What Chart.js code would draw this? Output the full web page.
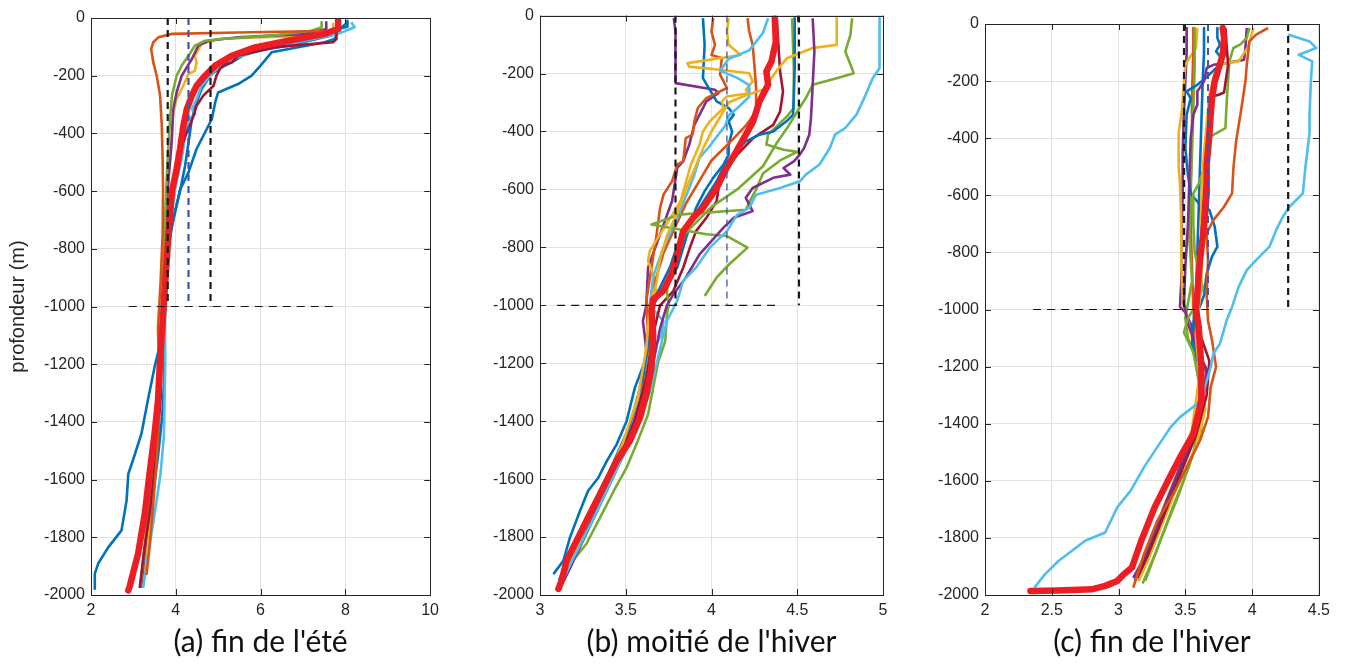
<!DOCTYPE html>
<html lang="fr">
<head>
<meta charset="utf-8">
<script src="https://cdn.jsdelivr.net/npm/chart.js@4.4.1/dist/chart.umd.min.js"></script>
<style>
    html, body { margin: 0; padding: 0; background: #fff; }
    #page { position: relative; width: 1356px; height: 667px; overflow: hidden; }
    .panel { position: absolute; top: 0; height: 667px; }
</style>
</head>
<body>
<div id="page">
    <div class="panel" style="left:0px;width:445px"><canvas id="chartA" width="445" height="667"></canvas></div>
    <div class="panel" style="left:460px;width:436px"><canvas id="chartB" width="436" height="667"></canvas></div>
    <div class="panel" style="left:905px;width:431px"><canvas id="chartC" width="431" height="667"></canvas></div>
</div>
<script>
// axes
const depthTicks = [0, -200, -400, -600, -800, -1000, -1200, -1400, -1600, -1800, -2000];
const tempTicksA = [2, 4, 6, 8, 10];
const tempTicksB = [3, 3.5, 4, 4.5, 5];
const tempTicksC = [2, 2.5, 3, 3.5, 4, 4.5];
const depthLabel = 'profondeur (m)';
const captions = ["(a) fin de l'été", "(b) moitié de l'hiver", "(c) fin de l'hiver"];

// reference lines: [black left, mean (blue), black right], horizontal line at -1000 [from, to]
const refDepth = -1000;
const refA = [3.81, 4.30, 4.82];
const hLineA = [2.89, 7.77];
const refB = [3.79, 4.09, 4.51];
const hLineB = [3.10, 4.37];
const refC = [3.49, 3.67, 4.27];
const hLineC = [2.36, 3.83];

// (a) fin de l'été — [température, profondeur]
const a_blue1 = [[8.05,-10],[8.05,-30],[7.83,-38],[7.75,-73],[7.51,-84],[6.26,-119],[6.0,-165],[5.79,-200],[5.47,-229],[5.0,-258],[4.93,-292],[4.85,-350],[4.69,-397],[4.49,-454],[4.30,-535],[4.10,-595],[3.98,-676],[3.87,-746],[3.79,-861],[3.75,-1000],[3.73,-1060],[3.68,-1100],[3.50,-1210],[3.34,-1326],[3.19,-1441],[2.99,-1533],[2.88,-1580],[2.84,-1672],[2.72,-1776],[2.41,-1834],[2.17,-1891],[2.09,-1926],[2.09,-1978]];
const a_blue2 = [[8.06,-15],[7.67,-61],[6.65,-96],[5.71,-119],[5.32,-154],[5.0,-177],[4.81,-200],[4.61,-246],[4.49,-292],[4.38,-350],[4.30,-431],[4.22,-512],[4.10,-600],[3.95,-690],[3.82,-800],[3.74,-950],[3.72,-1000],[3.74,-1100],[3.73,-1250],[3.68,-1380],[3.58,-1520],[3.45,-1660],[3.32,-1810],[3.20,-1975]];
const a_cyan = [[8.14,-15],[8.22,-32],[7.83,-55],[7.04,-79],[6.10,-108],[5.47,-136],[5.08,-160],[4.81,-200],[4.61,-235],[4.49,-281],[4.38,-316],[4.46,-333],[4.30,-350],[4.22,-408],[4.14,-489],[4.0,-580],[3.90,-680],[3.80,-800],[3.75,-1000],[3.75,-1200],[3.72,-1450],[3.64,-1580],[3.52,-1700],[3.36,-1850],[3.23,-1975]];
const a_wine = [[7.79,-15],[7.79,-73],[7.71,-84],[6.40,-100],[5.47,-131],[5.32,-154],[5.16,-160],[5.04,-177],[4.96,-200],[4.89,-235],[4.77,-252],[4.65,-269],[4.49,-304],[4.42,-339],[4.25,-400],[4.05,-480],[3.92,-600],[3.82,-750],[3.72,-950],[3.67,-1100],[3.65,-1300],[3.55,-1500],[3.40,-1700],[3.25,-1850],[3.15,-1975]];
const a_green = [[7.44,-15],[7.44,-32],[7.20,-44],[6.26,-61],[5.08,-73],[4.69,-79],[4.45,-96],[4.30,-131],[4.14,-165],[4.02,-200],[3.91,-269],[3.87,-339],[3.83,-431],[3.79,-547],[3.76,-650],[3.72,-800],[3.68,-1000],[3.63,-1200],[3.56,-1400],[3.43,-1600],[3.29,-1800],[3.16,-1975]];
const a_purple = [[7.55,-15],[7.55,-38],[7.04,-55],[5.47,-67],[4.77,-79],[4.53,-96],[4.38,-142],[4.26,-171],[4.14,-200],[4.02,-258],[3.94,-316],[3.91,-408],[3.87,-489],[3.80,-600],[3.76,-750],[3.70,-1000],[3.64,-1200],[3.55,-1400],[3.43,-1600],[3.30,-1800],[3.18,-1975]];
const a_yellow = [[7.71,-21],[7.71,-44],[7.36,-61],[5.87,-67],[5.0,-73],[4.61,-90],[4.45,-131],[4.49,-154],[4.45,-183],[4.30,-194],[4.14,-246],[4.02,-281],[3.94,-327],[3.91,-385],[3.91,-431],[3.85,-500],[3.80,-650],[3.75,-800],[3.70,-1000],[3.65,-1200],[3.58,-1400],[3.47,-1600],[3.34,-1800],[3.22,-1975]];
const a_orange = [[7.83,-21],[7.75,-44],[5.47,-50],[3.91,-55],[3.59,-67],[3.47,-84],[3.42,-108],[3.47,-154],[3.55,-200],[3.63,-269],[3.67,-373],[3.69,-489],[3.70,-600],[3.69,-750],[3.64,-920],[3.58,-1075],[3.60,-1200],[3.60,-1400],[3.54,-1550],[3.46,-1700],[3.37,-1850],[3.31,-1930]];
const a_mean = [[7.83,-9],[7.83,-38],[7.51,-55],[6.65,-79],[5.87,-102],[5.32,-131],[4.93,-165],[4.69,-200],[4.49,-235],[4.38,-269],[4.26,-316],[4.18,-373],[4.10,-454],[4.02,-523],[3.91,-600],[3.83,-746],[3.75,-919],[3.68,-1075],[3.62,-1210],[3.58,-1326],[3.50,-1441],[3.38,-1580],[3.27,-1718],[3.11,-1857],[2.99,-1926],[2.91,-1972],[2.88,-1984]];

// (b) moitié de l'hiver
const b_purple1 = [[3.78,-9],[3.79,-55],[3.79,-170],[3.79,-233],[4.02,-256],[4.04,-268],[3.97,-296],[3.94,-331],[3.90,-377],[3.89,-400],[3.87,-446],[3.835,-503],[3.80,-526],[3.77,-640],[3.70,-755],[3.63,-870],[3.62,-1000],[3.60,-1055],[3.61,-1101],[3.62,-1158],[3.60,-1300],[3.53,-1450],[3.42,-1600],[3.30,-1750],[3.18,-1900],[3.12,-1970]];
const b_blue1 = [[3.95,-9],[3.96,-101],[3.95,-216],[4.03,-296],[4.10,-319],[4.13,-342],[4.10,-365],[4.12,-400],[4.10,-446],[4.10,-480],[4.07,-514],[4.01,-560],[3.96,-606],[3.91,-664],[3.87,-732],[3.835,-801],[3.80,-870],[3.72,-940],[3.66,-1000],[3.64,-1100],[3.62,-1181],[3.553,-1285],[3.505,-1400],[3.447,-1480],[3.39,-1537],[3.34,-1595],[3.28,-1641],[3.233,-1710],[3.175,-1801],[3.136,-1882],[3.078,-1928]];
const b_orange1 = [[4.01,-9],[4.00,-55],[4.02,-101],[4.00,-136],[4.06,-147],[4.05,-204],[4.09,-250],[3.97,-285],[3.92,-319],[3.90,-365],[3.89,-411],[3.85,-423],[3.835,-503],[3.80,-514],[3.77,-572],[3.72,-618],[3.70,-664],[3.68,-755],[3.65,-870],[3.62,-985],[3.63,-1100],[3.60,-1250],[3.53,-1420],[3.42,-1580],[3.30,-1740],[3.19,-1880],[3.12,-1960]];
const b_yellow1 = [[4.10,-9],[4.09,-55],[4.10,-101],[4.17,-136],[3.86,-164],[3.87,-176],[4.05,-187],[4.22,-199],[4.24,-227],[4.20,-256],[4.22,-268],[4.09,-279],[4.06,-296],[4.07,-319],[3.99,-365],[3.95,-400],[3.93,-446],[3.88,-514],[3.82,-640],[3.76,-698],[3.70,-755],[3.64,-813],[3.63,-847],[3.66,-893],[3.68,-962],[3.66,-1000],[3.63,-1100],[3.60,-1250],[3.52,-1430],[3.40,-1600],[3.28,-1760],[3.17,-1900],[3.12,-1960]];
const b_orange2 = [[4.21,-9],[4.22,-55],[4.24,-101],[4.25,-170],[4.26,-250],[4.26,-331],[4.20,-380],[4.12,-430],[4.00,-500],[3.92,-580],[3.85,-650],[3.78,-740],[3.72,-820],[3.67,-920],[3.64,-1000],[3.63,-1150],[3.58,-1350],[3.48,-1500],[3.36,-1660],[3.24,-1820],[3.13,-1960]];
const b_cyan1 = [[4.33,-9],[4.30,-60],[4.22,-120],[4.10,-150],[4.05,-190],[4.15,-215],[4.22,-240],[4.22,-280],[4.15,-320],[4.10,-345],[4.08,-380],[3.98,-457],[3.93,-491],[3.90,-550],[3.80,-700],[3.72,-800],[3.66,-900],[3.64,-1000],[3.72,-1055],[3.71,-1101],[3.62,-1193],[3.57,-1330],[3.50,-1470],[3.40,-1600],[3.28,-1750],[3.17,-1890],[3.13,-1940]];
const b_green1 = [[4.47,-9],[4.48,-181],[4.48,-319],[4.44,-348],[4.33,-411],[4.32,-445],[4.42,-463],[4.50,-470],[4.40,-500],[4.30,-545],[4.26,-600],[4.22,-645],[4.20,-670],[3.81,-687],[3.65,-721],[3.97,-755],[4.09,-761],[4.21,-801],[4.10,-860],[4.03,-904],[3.96,-968]];
const b_green2 = [[4.82,-9],[4.81,-67],[4.78,-124],[4.83,-199],[4.73,-216],[4.59,-239],[4.55,-285],[4.50,-331],[4.45,-380],[4.38,-440],[4.30,-520],[4.15,-600],[4.00,-660],[3.85,-750],[3.78,-850],[3.74,-950],[3.75,-1000],[3.74,-1032],[3.73,-1124],[3.69,-1193],[3.66,-1285],[3.63,-1377],[3.57,-1468],[3.505,-1560],[3.43,-1641],[3.35,-1733],[3.27,-1824],[3.19,-1882],[3.12,-1951]];
const b_purple2 = [[4.59,-9],[4.60,-124],[4.59,-239],[4.58,-354],[4.57,-411],[4.54,-457],[4.515,-480],[4.48,-503],[4.42,-526],[4.46,-549],[4.36,-560],[4.24,-595],[4.20,-629],[4.24,-675],[4.13,-698],[4.07,-732],[3.93,-824],[3.85,-905],[3.78,-960],[3.74,-1000],[3.70,-1080],[3.66,-1200],[3.60,-1350],[3.50,-1500],[3.38,-1650],[3.26,-1800],[3.14,-1950]];
const b_cyan2 = [[4.98,-9],[4.98,-181],[4.94,-216],[4.89,-285],[4.845,-342],[4.78,-388],[4.72,-411],[4.69,-457],[4.63,-514],[4.55,-549],[4.515,-572],[4.40,-595],[4.26,-618],[4.22,-664],[4.15,-687],[4.09,-744],[3.99,-801],[3.91,-870],[3.835,-916],[3.80,-985],[3.74,-1054],[3.70,-1150],[3.64,-1300],[3.54,-1450],[3.42,-1600],[3.30,-1750],[3.18,-1890],[3.14,-1940]];
const b_blue2 = [[4.485,-9],[4.485,-181],[4.476,-342],[4.437,-365],[4.36,-400],[4.28,-411],[4.20,-434],[4.126,-480],[4.068,-526],[4.03,-572],[3.93,-664],[3.854,-732],[3.796,-801],[3.757,-870],[3.68,-962],[3.66,-1000],[3.64,-1100],[3.60,-1250],[3.52,-1420],[3.40,-1580],[3.28,-1730],[3.17,-1870],[3.11,-1950]];
const b_wine = [[4.38,-9],[4.39,-100],[4.40,-193],[4.417,-262],[4.40,-331],[4.36,-377],[4.243,-423],[4.15,-480],[4.05,-560],[4.03,-640],[3.97,-698],[3.91,-744],[3.874,-801],[3.835,-870],[3.777,-951],[3.70,-1000],[3.66,-1100],[3.62,-1250],[3.55,-1400],[3.44,-1560],[3.32,-1720],[3.20,-1870],[3.13,-1950]];
const b_yellow2 = [[4.73,-9],[4.73,-101],[4.59,-112],[4.44,-147],[4.38,-190],[4.30,-256],[4.20,-275],[4.10,-300],[4.00,-400],[3.95,-460],[3.90,-530],[3.85,-600],[3.80,-680],[3.74,-760],[3.70,-840],[3.68,-920],[3.64,-1000],[3.62,-1150],[3.57,-1320],[3.48,-1480],[3.36,-1640],[3.24,-1800],[3.13,-1950]];
const b_mean = [[4.369,-9],[4.375,-90],[4.35,-158],[4.32,-193],[4.33,-239],[4.28,-296],[4.243,-365],[4.20,-411],[4.146,-468],[4.087,-526],[4.03,-595],[3.95,-664],[3.893,-698],[3.835,-744],[3.806,-813],[3.767,-893],[3.718,-951],[3.66,-979],[3.65,-1020],[3.66,-1101],[3.65,-1216],[3.62,-1308],[3.583,-1388],[3.524,-1468],[3.447,-1537],[3.369,-1629],[3.29,-1721],[3.223,-1801],[3.155,-1882],[3.126,-1951],[3.107,-1979]];

// (c) fin de l'hiver
const c_purple1 = [[3.51,-14],[3.51,-100],[3.50,-200],[3.49,-300],[3.48,-450],[3.48,-600],[3.47,-750],[3.47,-900],[3.46,-991],[3.50,-1010],[3.55,-1060],[3.58,-1150],[3.63,-1230],[3.60,-1350],[3.52,-1480],[3.42,-1600],[3.30,-1750],[3.20,-1880],[3.12,-1940]];
const c_yellow1 = [[3.59,-14],[3.58,-84],[3.53,-119],[3.50,-143],[3.49,-201],[3.48,-271],[3.47,-318],[3.45,-380],[3.45,-500],[3.46,-558],[3.47,-700],[3.47,-850],[3.48,-970],[3.52,-1040],[3.56,-1120],[3.60,-1250],[3.55,-1420],[3.45,-1560],[3.33,-1700],[3.22,-1850],[3.14,-1940]];
const c_orange1 = [[3.56,-14],[3.56,-100],[3.55,-250],[3.55,-400],[3.54,-550],[3.54,-700],[3.55,-850],[3.56,-1000],[3.58,-1100],[3.62,-1250],[3.58,-1400],[3.48,-1550],[3.36,-1700],[3.24,-1850],[3.15,-1950]];
const c_green1 = [[3.57,-14],[3.57,-150],[3.56,-300],[3.55,-450],[3.54,-600],[3.53,-750],[3.55,-900],[3.50,-1030],[3.52,-1100],[3.60,-1200],[3.63,-1350],[3.56,-1500],[3.45,-1650],[3.32,-1800],[3.20,-1950]];
const c_blue1 = [[3.64,-14],[3.64,-100],[3.63,-200],[3.62,-350],[3.61,-500],[3.60,-650],[3.59,-800],[3.58,-950],[3.56,-1050],[3.55,-1120],[3.62,-1220],[3.60,-1380],[3.50,-1520],[3.38,-1660],[3.26,-1800],[3.14,-1930]];
const c_blue2 = [[3.74,-14],[3.74,-49],[3.76,-72],[3.73,-96],[3.77,-119],[3.74,-150],[3.65,-190],[3.59,-213],[3.51,-236],[3.54,-260],[3.51,-318],[3.50,-435],[3.52,-530],[3.54,-593],[3.62,-640],[3.68,-651],[3.72,-710],[3.74,-780],[3.70,-815],[3.66,-874],[3.64,-950],[3.60,-1000],[3.55,-1080],[3.60,-1170],[3.66,-1220],[3.62,-1350],[3.54,-1480],[3.42,-1620],[3.30,-1760],[3.18,-1900],[3.12,-1950]];
const c_purple2 = [[3.96,-14],[3.95,-84],[3.94,-125],[3.80,-138],[3.71,-143],[3.66,-154],[3.64,-201],[3.59,-236],[3.59,-283],[3.56,-318],[3.54,-400],[3.53,-550],[3.52,-700],[3.50,-850],[3.49,-980],[3.52,-1050],[3.60,-1150],[3.66,-1210],[3.63,-1330],[3.54,-1460],[3.42,-1600],[3.30,-1740],[3.18,-1880],[3.11,-1940]];
const c_green2 = [[3.98,-14],[3.96,-49],[3.91,-72],[3.86,-84],[3.83,-131],[3.82,-201],[3.81,-271],[3.80,-365],[3.71,-388],[3.67,-400],[3.66,-480],[3.60,-560],[3.56,-593],[3.56,-700],[3.57,-800],[3.63,-921],[3.60,-967],[3.52,-1030],[3.49,-1080],[3.56,-1150],[3.62,-1300],[3.62,-1420],[3.52,-1560],[3.40,-1700],[3.28,-1850],[3.18,-1960]];
const c_yellow2 = [[4.01,-14],[3.97,-80],[3.90,-130],[3.78,-140],[3.72,-170],[3.68,-250],[3.66,-350],[3.64,-450],[3.62,-600],[3.62,-750],[3.62,-900],[3.60,-1000],[3.58,-1100],[3.60,-1200],[3.65,-1350],[3.58,-1480],[3.44,-1620],[3.32,-1760],[3.22,-1880],[3.15,-1950]];
const c_wine = [[3.80,-14],[3.81,-80],[3.82,-143],[3.79,-240],[3.75,-248],[3.70,-254],[3.68,-300],[3.66,-450],[3.64,-600],[3.62,-750],[3.60,-900],[3.58,-1000],[3.62,-1100],[3.68,-1180],[3.66,-1300],[3.58,-1440],[3.46,-1580],[3.34,-1720],[3.22,-1860],[3.14,-1940]];
const c_orange2 = [[4.12,-14],[4.03,-37],[3.98,-61],[3.96,-143],[3.95,-201],[3.92,-295],[3.88,-411],[3.86,-505],[3.85,-593],[3.79,-640],[3.71,-687],[3.66,-733],[3.67,-827],[3.66,-950],[3.67,-1040],[3.70,-1108],[3.73,-1201],[3.69,-1272],[3.67,-1377],[3.61,-1459],[3.51,-1553],[3.41,-1646],[3.29,-1740],[3.19,-1857],[3.11,-1974]];
const c_cyan = [[4.27,-37],[4.43,-61],[4.48,-84],[4.35,-108],[4.45,-131],[4.44,-201],[4.43,-318],[4.43,-382],[4.40,-499],[4.38,-593],[4.28,-640],[4.23,-675],[4.18,-722],[4.13,-780],[4.03,-827],[3.96,-862],[3.90,-920],[3.85,-991],[3.81,-1037],[3.76,-1119],[3.71,-1155],[3.69,-1201],[3.64,-1283],[3.59,-1330],[3.46,-1377],[3.39,-1412],[3.29,-1482],[3.19,-1553],[3.09,-1635],[2.99,-1693],[2.90,-1781],[2.75,-1810],[2.55,-1881],[2.45,-1927],[2.37,-1974]];
const c_mean = [[3.78,-14],[3.79,-49],[3.78,-108],[3.75,-154],[3.72,-201],[3.70,-260],[3.69,-318],[3.68,-388],[3.66,-494],[3.66,-593],[3.64,-710],[3.61,-827],[3.59,-944],[3.58,-1000],[3.60,-1061],[3.62,-1201],[3.62,-1318],[3.56,-1436],[3.46,-1518],[3.37,-1600],[3.27,-1693],[3.17,-1810],[3.10,-1904],[3.04,-1927],[2.99,-1951],[2.90,-1968],[2.80,-1980],[2.55,-1984],[2.34,-1986]];

// MATLAB colours
const COL = {
    blue: '#0072BD', orange: '#D95319', yellow: '#EDB120', purple: '#7E2F8E',
    green: '#77AC30', cyan: '#4DBEEE', wine: '#A2142F', red: '#EE1D23',
    black: '#1a1a1a', meanBlue: '#4353A6'
};
const tickFont = { family: '"Liberation Sans", Arial, Helvetica, sans-serif', size: 16 };
const captionFont = { family: 'Lato, "Open Sans", sans-serif', size: 30 };

function toXY(points) {
    return points.map(([t, d]) => ({ x: t, y: d }));
}

function profile(points, color) {
    return { data: toXY(points), showLine: true, borderColor: color, borderWidth: 2.6,
        pointRadius: 0, fill: false, borderJoinStyle: 'round' };
}

function refLines(ref, hLine, meanWidth) {
    const dash = (t, color, w) => ({
        data: [{ x: t, y: 0 }, { x: t, y: refDepth }], showLine: true, borderColor: color,
        borderWidth: w, borderDash: [7, 5], pointRadius: 0, fill: false
    });
    return [
        dash(ref[0], COL.black, 2.2),
        dash(ref[1], COL.meanBlue, meanWidth),
        dash(ref[2], COL.black, 2.2),
        { data: [{ x: hLine[0], y: refDepth }, { x: hLine[1], y: refDepth }], showLine: true,
          borderColor: COL.black, borderWidth: 1.2, borderDash: [8, 6], pointRadius: 0, fill: false }
    ];
}

function meanLine(points) {
    return { data: toXY(points), showLine: true, borderColor: COL.red, borderWidth: 6.5,
        pointRadius: 0, fill: false, borderJoinStyle: 'round', borderCapStyle: 'round' };
}

// inward ticks and box, like MATLAB axes
const matlabBox = {
    id: 'matlabBox',
    afterDatasetsDraw(chart) {
        const { ctx, chartArea, scales } = chart;
        const { left, right, top, bottom } = chartArea;
        const len = 6;
        ctx.save();
        ctx.strokeStyle = '#262626';
        ctx.lineWidth = 1;
        ctx.beginPath();
        scales.x.ticks.forEach((t) => {
            const px = Math.round(scales.x.getPixelForValue(t.value)) + 0.5;
            ctx.moveTo(px, bottom); ctx.lineTo(px, bottom - len);
            ctx.moveTo(px, top); ctx.lineTo(px, top + len);
        });
        scales.y.ticks.forEach((t) => {
            const py = Math.round(scales.y.getPixelForValue(t.value)) + 0.5;
            ctx.moveTo(left, py); ctx.lineTo(left + len, py);
            ctx.moveTo(right, py); ctx.lineTo(right - len, py);
        });
        ctx.stroke();
        ctx.strokeRect(Math.round(left) + 0.5, Math.round(top) + 0.5,
            Math.round(right - left), Math.round(bottom - top));
        ctx.restore();
    }
};

function makeChart(id, opts) {
    const el = document.getElementById(id);
    return new Chart(el.getContext('2d'), {
        type: 'scatter',
        data: { datasets: opts.datasets },
        options: {
            responsive: false,
            animation: false,
            layout: { padding: { top: opts.padTop, right: 13, bottom: 0, left: 0 } },
            plugins: { legend: { display: false }, tooltip: { enabled: false } },
            scales: {
                x: {
                    type: 'linear', min: opts.xMin, max: opts.xMax,
                    afterBuildTicks: (s) => { s.ticks = opts.xTicks.map((v) => ({ value: v })); },
                    afterFit: (s) => { s.height = 72; },
                    grid: { color: '#e2e2e2', drawTicks: false },
                    border: { display: false },
                    ticks: { font: tickFont, color: '#262626', padding: 6, maxRotation: 0,
                        autoSkip: false, callback: (v) => String(v) },
                    title: { display: true, text: opts.caption, font: captionFont, color: '#111',
                        padding: { top: 0, bottom: 7 } }
                },
                y: {
                    type: 'linear', min: -2000, max: 0,
                    afterBuildTicks: (s) => { s.ticks = depthTicks.map((v) => ({ value: v })); },
                    afterFit: (s) => { s.width = opts.yWidth; },
                    grid: { color: '#e2e2e2', drawTicks: false },
                    border: { display: false },
                    ticks: { font: tickFont, color: '#262626', padding: 6, autoSkip: false,
                        callback: (v) => String(v) },
                    title: { display: !!opts.yTitle, text: opts.yTitle || '', color: '#262626',
                        font: { family: tickFont.family, size: 20 }, padding: { top: 6, bottom: 0 } }
                }
            }
        },
        plugins: [matlabBox]
    });
}

makeChart('chartA', {
    xMin: 2, xMax: 10, xTicks: tempTicksA, caption: captions[0], yTitle: depthLabel,
    yWidth: 91, padTop: 18,
    datasets: [
        ...refLines(refA, hLineA, 2.2),
        meanLine(a_mean),
        profile(a_orange, COL.orange), profile(a_wine, COL.wine), profile(a_cyan, COL.cyan),
        profile(a_green, COL.green), profile(a_purple, COL.purple), profile(a_yellow, COL.yellow),
        profile(a_blue2, COL.blue), profile(a_blue1, COL.blue)
    ]
});

makeChart('chartB', {
    xMin: 3, xMax: 5, xTicks: tempTicksB, caption: captions[1],
    yWidth: 80, padTop: 14,
    datasets: [
        ...refLines(refB, hLineB, 1.3),
        meanLine(b_mean),
        profile(b_cyan2, COL.cyan), profile(b_purple2, COL.purple), profile(b_green2, COL.green),
        profile(b_yellow2, COL.yellow), profile(b_blue2, COL.blue), profile(b_green1, COL.green),
        profile(b_wine, COL.wine), profile(b_cyan1, COL.cyan), profile(b_orange2, COL.orange),
        profile(b_yellow1, COL.yellow), profile(b_orange1, COL.orange), profile(b_blue1, COL.blue),
        profile(b_purple1, COL.purple)
    ]
});

makeChart('chartC', {
    xMin: 2, xMax: 4.5, xTicks: tempTicksC, caption: captions[2],
    yWidth: 80, padTop: 24,
    datasets: [
        ...refLines(refC, hLineC, 2),
        meanLine(c_mean),
        profile(c_cyan, COL.cyan), profile(c_orange2, COL.orange), profile(c_wine, COL.wine),
        profile(c_yellow2, COL.yellow), profile(c_green2, COL.green), profile(c_purple2, COL.purple),
        profile(c_blue2, COL.blue), profile(c_blue1, COL.blue), profile(c_green1, COL.green),
        profile(c_orange1, COL.orange), profile(c_yellow1, COL.yellow), profile(c_purple1, COL.purple)
    ]
});
</script>
</body>
</html>
